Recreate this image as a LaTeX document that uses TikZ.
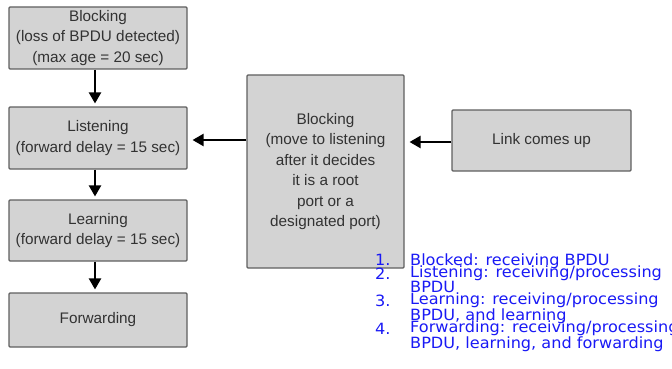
\documentclass[tikz,border=0pt]{standalone}
\usepackage{fontspec}
\setmainfont{Liberation Sans}
\newfontfamily\listfont[FakeStretch=1.04]{DejaVu Sans}
\usetikzlibrary{arrows.meta}
\definecolor{boxfill}{RGB}{211,211,211}
\definecolor{boxline}{RGB}{95,95,95}
\definecolor{boxtext}{RGB}{50,50,50}
\definecolor{listblue}{RGB}{25,25,245}
\tikzset{
  statebox/.style={draw=boxline, fill=boxfill, line width=1.1pt, rounded corners=1pt,
    text=boxtext, align=center, inner sep=0pt, font=\fontsize{15.3}{20.5}\selectfont},
  flow/.style={line width=2.2pt, -{Triangle[length=11pt,width=12pt]}},
  numtxt/.style={anchor=base west, inner sep=0pt, text=listblue, font=\listfont\fontsize{15.5}{13.8}\selectfont},
  itemtxt/.style={anchor=base west, inner sep=0pt, text=listblue, align=left, font=\listfont\fontsize{15.5}{13.8}\selectfont}
}
\begin{document}
\begin{tikzpicture}[x=1pt,y=-1pt]
\useasboundingbox (0,0) rectangle (672,369);
\node[statebox, minimum width=178pt, minimum height=62pt] (b1) at (98,38) {Blocking\\(loss of BPDU detected)\\(max age = 20 sec)};
\node[statebox, minimum width=178pt, minimum height=62pt] (b2) at (98,138) {Listening\\(forward delay = 15 sec)};
\node[statebox, minimum width=178pt, minimum height=61pt] (b3) at (98,230.5) {Learning\\(forward delay = 15 sec)};
\node[statebox, minimum width=178pt, minimum height=54pt] (b4) at (98,320) {Forwarding};
\node[statebox, minimum width=157pt, minimum height=193pt] (c) at (325.5,171.5) {Blocking\\(move to listening\\after it decides\\it is a root\\port or a\\designated port)};
\node[statebox, minimum width=179pt, minimum height=61pt] (l) at (541.5,140.5) {Link comes up};

\draw[flow, shorten >=3pt] ([xshift=-3pt]b1.south) -- ([xshift=-3pt]b2.north);
\draw[flow, shorten >=3pt] ([xshift=-3pt]b2.south) -- ([xshift=-3pt]b3.north);
\draw[flow, shorten >=3pt] ([xshift=-3pt]b3.south) -- ([xshift=-3pt]b4.north);
\draw[flow, shorten >=5pt] ([yshift=-2pt]c.west |- b2.east) -- ([yshift=-2pt]b2.east);
\draw[flow, shorten >=5pt] ([yshift=-1.5pt]l.west) -- ([yshift=-1.5pt]c.east |- l.west);

\node[numtxt] (n1) at (375,265) {1.};
\node[itemtxt] (t1) at (410,265) {Blocked: receiving BPDU};
\node[numtxt] (n2) at (375,279) {2.};
\node[itemtxt] (t2) at (410,292.8) {Listening: receiving/processing\\BPDU};
\node[numtxt] (n3) at (375,306.6) {3.};
\node[itemtxt] (t3) at (410,320.4) {Learning: receiving/processing\\BPDU, and learning};
\node[numtxt] (n4) at (375,334.2) {4.};
\node[itemtxt] (t4) at (410,348) {Forwarding: receiving/processing\\BPDU, learning, and forwarding};
\end{tikzpicture}
\end{document}
